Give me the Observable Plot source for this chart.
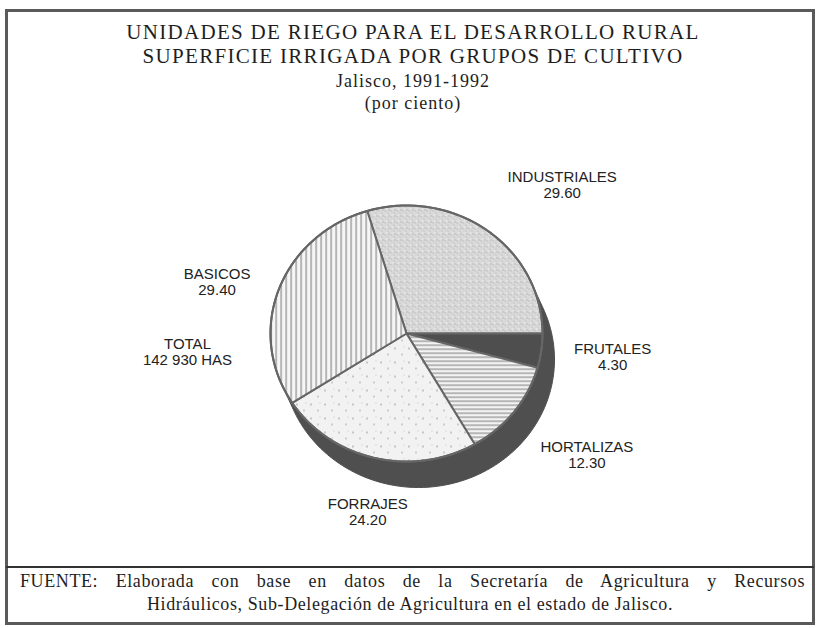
<!DOCTYPE html>
<html><head><meta charset="utf-8">
<script src="https://cdn.jsdelivr.net/npm/d3@7"></script>
<script src="https://cdn.jsdelivr.net/npm/@observablehq/plot@0.6"></script>
<style>
body{margin:0;background:#fff;width:817px;height:628px;position:relative;overflow:hidden;font-family:"Liberation Serif","Times New Roman",serif;color:#1e1e1e}
.frame{position:absolute;left:5px;top:9px;width:804px;height:610px;border:3px solid #5a5a5a}
.sep{position:absolute;left:6px;top:566px;width:808px;height:0;border-top:2px solid #333}
.t{position:absolute;left:0;width:826px;text-align:center;white-space:nowrap}
.l1{font-size:21px;line-height:23.5px;letter-spacing:1.3px}
.l3{font-size:18px;line-height:22px;letter-spacing:1px}
.cap{font-size:18px;line-height:17px;letter-spacing:0.6px}
#chart{position:absolute;left:0;top:120px}
</style>
</head><body>
<div class="frame"></div>
<div class="sep"></div>
<div class="t l1" style="top:21px">UNIDADES DE RIEGO PARA EL DESARROLLO RURAL<br>SUPERFICIE IRRIGADA POR GRUPOS DE CULTIVO</div>
<div class="t l3" style="top:70px">Jalisco, 1991-1992<br>(por ciento)</div>
<div id="chart"></div>
<div class="cap" style="position:absolute;left:20px;top:573px;width:785px;text-align:justify;text-align-last:justify;white-space:nowrap">FUENTE: Elaborada con base en datos de la Secretaría de Agricultura y Recursos</div>
<div class="t cap" style="top:596px;width:820px">Hidráulicos, Sub-Delegación de Agricultura en el estado de Jalisco.</div>
<script>
// ---- data ----
const categories = ["INDUSTRIALES", "FRUTALES", "HORTALIZAS", "FORRAJES", "BASICOS"];
const values = [29.6, 4.3, 12.3, 24.2, 29.4];
const valueLabels = ["29.60", "4.30", "12.30", "24.20", "29.40"];
const totalLabel = ["TOTAL", "142 930 HAS"];

// ---- style / layout ----
const fills = {INDUSTRIALES: "url(#pInd)", FRUTALES: "#4e4e4e", HORTALIZAS: "url(#pHor)", FORRAJES: "url(#pFor)", BASICOS: "url(#pBas)"};
const RX = 136, RY = 128;           // face radii in px
const CX = 406, CY = 213;           // centre in svg px
const depth = [12, 26];             // 3D side offset in px
const labelR = 1.5;
const labelNudge = {INDUSTRIALES: [34, 5], FRUTALES: [4, -3], HORTALIZAS: [19, 4], FORRAJES: [9, -8], BASICOS: [2, 15]};
const totalPos = [-219, 18];

const total = d3.sum(values);
const TAU = 2 * Math.PI;
let acc = Math.PI / 2 - values[0] / total * TAU;
const slices = categories.map((c, i) => {
  const a0 = acc, a1 = acc + values[i] / total * TAU;
  acc = a1;
  return {c, i, a0, a1, mid: (a0 + a1) / 2};
});
function arcPoints(s) {
  const pts = [{x: 0, y: 0}];
  const n = Math.max(4, Math.ceil((s.a1 - s.a0) / 0.02));
  for (let k = 0; k <= n; k++) {
    const a = s.a0 + (s.a1 - s.a0) * k / n;
    pts.push({x: Math.sin(a), y: Math.cos(a)});
  }
  pts.push({x: 0, y: 0});
  return pts;
}
const ring = d3.range(0, 361, 2).map(d => ({x: Math.sin(d * Math.PI / 180), y: Math.cos(d * Math.PI / 180)}));
const ox = depth[0] / RX, oy = -depth[1] / RY;
const hullPts = d3.polygonHull(ring.flatMap(p => [[p.x, p.y], [p.x + ox, p.y + oy]]));
const hull = hullPts.concat([hullPts[0]]).map(p => ({x: p[0], y: p[1]}));

const labels = slices.map(s => ({
  x: labelR * Math.sin(s.mid) + labelNudge[s.c][0] / RX,
  y: labelR * Math.cos(s.mid) - labelNudge[s.c][1] / RY,
  text: s.c + "\n" + valueLabels[s.i]
}));

const svg = Plot.plot({
  width: 817, height: 440,
  x: {domain: [-1, 1], range: [CX - RX, CX + RX], axis: null},
  y: {domain: [-1, 1], range: [CY + RY, CY - RY], axis: null},
  marks: [
    Plot.line(hull, {x: "x", y: "y", fill: "#4f4f4f", stroke: "#4f4f4f", strokeWidth: 1}),
    ...slices.map(s => Plot.line(arcPoints(s), {x: "x", y: "y", fill: fills[s.c], stroke: "#666", strokeWidth: 2})),
    Plot.line(ring, {x: "x", y: "y", stroke: "#666", strokeWidth: 2}),
    Plot.text(labels, {x: "x", y: "y", text: "text", fontFamily: "Liberation Sans, Arial, sans-serif", fontSize: 15, lineHeight: 1.07, fill: "#222"}),
    Plot.text([totalLabel.join("\n")], {x: totalPos[0] / RX, y: -totalPos[1] / RY, text: d => d, fontFamily: "Liberation Sans, Arial, sans-serif", fontSize: 15, lineHeight: 1.07, fill: "#222"})
  ]
});

const defs = d3.select(svg).insert("defs", ":first-child");
function pat(id, w, h, bg, rects) {
  const p = defs.append("pattern").attr("id", id).attr("width", w).attr("height", h).attr("patternUnits", "userSpaceOnUse");
  p.append("rect").attr("width", w).attr("height", h).attr("fill", bg);
  rects.forEach(r => p.append("rect").attr("x", r[0]).attr("y", r[1]).attr("width", r[2]).attr("height", r[3]).attr("fill", r[4]));
}
pat("pInd", 6, 6, "#d8d8d8", [[0,0,1,1,"#a8a8a8"],[3,2,1,1,"#b5b5b5"],[1,4,2,1,"#efefef"],[4,5,1,1,"#a0a0a0"],[5,1,1,1,"#ebebeb"]]);
pat("pHor", 4, 4, "#f3f3f3", [[0,0,4,1.3,"#959595"]]);
pat("pBas", 5, 5, "#f6f6f6", [[0,0,1.2,5,"#8a8a8a"]]);
pat("pFor", 14, 14, "#f2f2f2", [[2,3,1,2,"#9a9a9a"],[9,9,1,2,"#a8a8a8"],[11,2,1,1,"#c0c0c0"]]);

document.getElementById("chart").appendChild(svg);
</script>
</body></html>
